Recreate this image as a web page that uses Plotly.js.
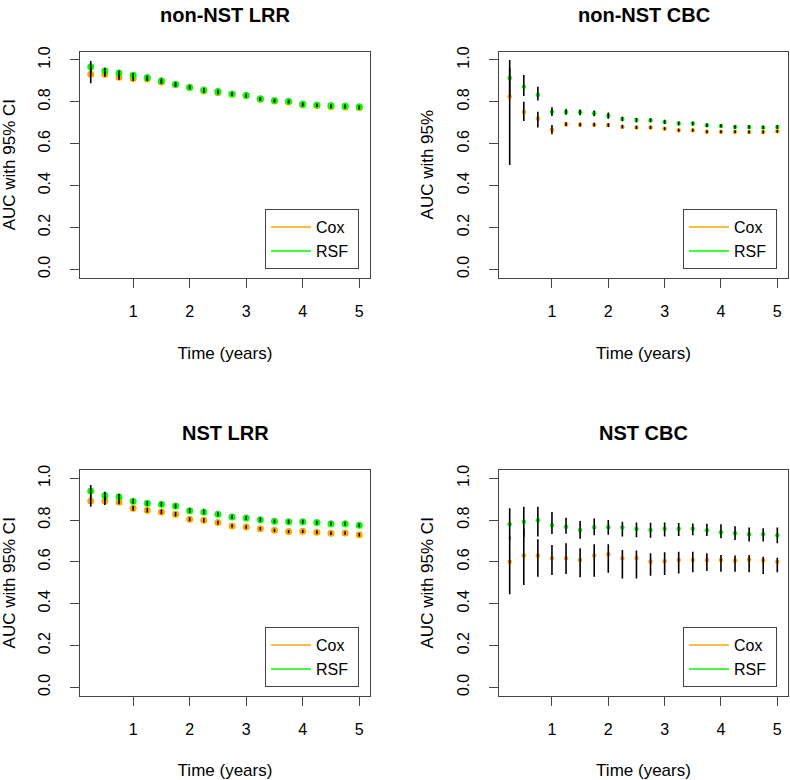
<!DOCTYPE html>
<html>
<head>
<meta charset="utf-8">
<script src="https://cdn.plot.ly/plotly-3.0.1.min.js"></script>
<style>html,body{margin:0;padding:0;background:#fff;}#chart{width:790px;height:780px;}</style>
</head>
<body>
<div id="chart"></div>
<script>
// ---- data ----
const times = [0.25,0.5,0.75,1,1.25,1.5,1.75,2,2.25,2.5,2.75,3,3.25,3.5,3.75,4,4.25,4.5,4.75,5];
const titles = ["non-NST LRR","non-NST CBC","NST LRR","NST CBC"];
const yTitles = ["AUC with 95% CI","AUC with 95%","AUC with 95% CI","AUC with 95% CI"];
const seriesNames = ["Cox","RSF"];
const xTickVals = [1,2,3,4,5];
const yTickVals = [0,0.2,0.4,0.6,0.8,1.0];

// non-NST LRR
const cox1   = [0.932,0.932,0.917,0.911,0.909,0.895,0.882,0.869,0.852,0.844,0.836,0.829,0.812,0.804,0.799,0.785,0.782,0.777,0.775,0.772];
const cox1Lo = [0.889,0.920,0.906,0.900,0.899,0.885,0.873,0.860,0.843,0.836,0.828,0.821,0.804,0.797,0.792,0.778,0.775,0.770,0.768,0.765];
const cox1Hi = [0.965,0.945,0.928,0.922,0.919,0.905,0.891,0.878,0.861,0.852,0.844,0.837,0.820,0.811,0.806,0.792,0.789,0.784,0.782,0.779];
const rsf1   = [0.968,0.949,0.938,0.927,0.916,0.901,0.884,0.870,0.857,0.849,0.838,0.831,0.815,0.807,0.803,0.790,0.785,0.782,0.780,0.777];
const rsf1Lo = [0.935,0.935,0.927,0.916,0.906,0.892,0.875,0.861,0.848,0.841,0.830,0.823,0.807,0.800,0.796,0.783,0.778,0.775,0.773,0.770];
const rsf1Hi = [0.995,0.962,0.950,0.938,0.926,0.911,0.893,0.879,0.866,0.858,0.846,0.839,0.823,0.815,0.810,0.797,0.792,0.789,0.787,0.784];

// non-NST CBC
const cox2   = [0.825,0.752,0.720,0.667,0.693,0.691,0.691,0.689,0.681,0.678,0.678,0.672,0.664,0.664,0.657,0.657,0.657,0.656,0.656,0.659];
const cox2Lo = [0.498,0.709,0.678,0.645,0.684,0.682,0.682,0.680,0.673,0.670,0.670,0.665,0.657,0.657,0.650,0.650,0.650,0.649,0.649,0.652];
const cox2Hi = [0.960,0.801,0.753,0.689,0.702,0.700,0.700,0.698,0.689,0.686,0.686,0.679,0.671,0.671,0.664,0.664,0.664,0.663,0.663,0.666];
const rsf2   = [0.914,0.872,0.834,0.753,0.752,0.750,0.745,0.734,0.718,0.713,0.712,0.704,0.697,0.696,0.688,0.685,0.680,0.680,0.678,0.680];
const rsf2Lo = [0.830,0.828,0.806,0.732,0.738,0.736,0.731,0.719,0.707,0.703,0.702,0.694,0.688,0.687,0.680,0.677,0.672,0.672,0.670,0.672];
const rsf2Hi = [1.000,0.928,0.872,0.774,0.766,0.764,0.759,0.749,0.729,0.723,0.722,0.714,0.706,0.705,0.696,0.693,0.688,0.688,0.686,0.688];

// NST LRR
const cox3   = [0.891,0.893,0.887,0.856,0.847,0.839,0.828,0.804,0.799,0.788,0.772,0.767,0.759,0.751,0.745,0.746,0.742,0.737,0.738,0.730];
const cox3Lo = [0.864,0.872,0.876,0.845,0.836,0.828,0.817,0.794,0.789,0.779,0.764,0.759,0.751,0.743,0.737,0.738,0.734,0.729,0.730,0.722];
const cox3Hi = [0.920,0.915,0.898,0.867,0.858,0.850,0.839,0.814,0.809,0.797,0.780,0.775,0.767,0.759,0.753,0.754,0.750,0.745,0.746,0.738];
const rsf3   = [0.939,0.917,0.912,0.890,0.880,0.876,0.867,0.845,0.839,0.828,0.815,0.810,0.802,0.794,0.792,0.792,0.788,0.783,0.783,0.775];
const rsf3Lo = [0.905,0.895,0.900,0.878,0.869,0.865,0.856,0.834,0.828,0.818,0.805,0.800,0.792,0.785,0.783,0.783,0.779,0.774,0.774,0.766];
const rsf3Hi = [0.968,0.935,0.925,0.902,0.891,0.887,0.878,0.856,0.850,0.838,0.825,0.820,0.812,0.803,0.801,0.801,0.797,0.792,0.792,0.784];

// NST CBC
const cox4   = [0.601,0.631,0.630,0.617,0.617,0.609,0.630,0.636,0.617,0.619,0.601,0.603,0.609,0.609,0.609,0.609,0.607,0.611,0.607,0.601];
const cox4Lo = [0.445,0.489,0.529,0.537,0.542,0.526,0.529,0.548,0.521,0.521,0.534,0.537,0.545,0.551,0.556,0.553,0.553,0.550,0.542,0.550];
const cox4Hi = [0.720,0.760,0.708,0.681,0.689,0.665,0.684,0.684,0.657,0.654,0.641,0.646,0.649,0.649,0.641,0.633,0.630,0.633,0.625,0.620];
const rsf4   = [0.780,0.792,0.799,0.775,0.768,0.753,0.766,0.766,0.764,0.757,0.753,0.759,0.759,0.759,0.751,0.742,0.737,0.732,0.732,0.727];
const rsf4Lo = [0.705,0.718,0.721,0.733,0.735,0.711,0.727,0.730,0.721,0.718,0.716,0.721,0.724,0.727,0.724,0.713,0.705,0.697,0.697,0.689];
const rsf4Hi = [0.856,0.864,0.864,0.839,0.811,0.796,0.807,0.800,0.792,0.789,0.787,0.789,0.786,0.784,0.782,0.780,0.770,0.765,0.761,0.764];

// ---- styling ----
const COX_COLOR = "#FFA500";
const RSF_COLOR = "#00FF00";
const AXIS_COLOR = "#444444";
const FONT = "Liberation Sans, Arial, sans-serif";
const W = 790, H = 780;

const panels = [
  {cox:[cox1,cox1Lo,cox1Hi], rsf:[rsf1,rsf1Lo,rsf1Hi], msize:7,   xd:[80,370],  yd:[51.6,277.7]},
  {cox:[cox2,cox2Lo,cox2Hi], rsf:[rsf2,rsf2Lo,rsf2Hi], msize:4.5, xd:[499,788], yd:[51.6,277.7]},
  {cox:[cox3,cox3Lo,cox3Hi], rsf:[rsf3,rsf3Lo,rsf3Hi], msize:7,   xd:[80,370],  yd:[469.9,695.7]},
  {cox:[cox4,cox4Lo,cox4Hi], rsf:[rsf4,rsf4Lo,rsf4Hi], msize:4.5, xd:[499,788], yd:[469.9,695.7]}
];

const traces = [];
const layout = {
  width: W, height: H,
  margin: {l:0, r:0, t:0, b:0},
  paper_bgcolor: "#fff", plot_bgcolor: "#fff",
  font: {family: FONT, color: "#000", size: 15},
  showlegend: true,
  annotations: []
};

panels.forEach((p, i) => {
  const n = i + 1;
  const xa = n === 1 ? "x" : "x" + n;
  const ya = n === 1 ? "y" : "y" + n;
  const lg = n === 1 ? "legend" : "legend" + n;
  const groups = [[seriesNames[0], p.cox, COX_COLOR], [seriesNames[1], p.rsf, RSF_COLOR]];
  // points
  groups.forEach(([name, s, col]) => {
    traces.push({x: times, y: s[0], xaxis: xa, yaxis: ya, type: "scatter", mode: "markers",
      marker: {color: col, size: p.msize, line: {width: 0}}, showlegend: false, name: name, hoverinfo: "skip"});
  });
  // CI bars on top
  groups.forEach(([name, s, col]) => {
    traces.push({x: times, y: s[0], xaxis: xa, yaxis: ya, type: "scatter", mode: "markers",
      marker: {color: col, size: p.msize, opacity: 0},
      error_y: {type: "data", symmetric: false,
        array: s[0].map((v, k) => s[2][k] - v),
        arrayminus: s[0].map((v, k) => v - s[1][k]),
        color: "#000", thickness: 1.6, width: 0},
      showlegend: false, name: name, hoverinfo: "skip"});
  });
  // legend entries
  groups.forEach(([name, s, col]) => {
    traces.push({x: [null], y: [null], xaxis: xa, yaxis: ya, type: "scatter", mode: "lines",
      line: {color: col, width: 1.5}, name: name + "\u00a0", legend: lg, showlegend: true});
  });

  const axKey = n === 1 ? "xaxis" : "xaxis" + n;
  const ayKey = n === 1 ? "yaxis" : "yaxis" + n;
  layout[axKey] = {
    domain: [p.xd[0] / W, p.xd[1] / W], anchor: ya,
    range: [0.06, 5.19], tickvals: xTickVals, ticks: "outside", ticklen: 9, tickwidth: 1,
    tickcolor: AXIS_COLOR, showline: true, mirror: true, linecolor: AXIS_COLOR, linewidth: 1,
    showgrid: false, zeroline: false, ticklabelstandoff: 10,
    tickfont: {size: 16, family: FONT},
    title: {text: "Time (years)", font: {size: 17, family: FONT}, standoff: 28}
  };
  layout[ayKey] = {
    domain: [1 - p.yd[1] / H, 1 - p.yd[0] / H], anchor: xa,
    range: [-0.04, 1.04], tickvals: yTickVals, tickformat: ".1f", tickangle: -90,
    ticks: "outside", ticklen: 9, tickwidth: 1, tickcolor: AXIS_COLOR,
    showline: true, mirror: true, linecolor: AXIS_COLOR, linewidth: 1,
    showgrid: false, zeroline: false, ticklabelstandoff: 14,
    tickfont: {size: 16, family: FONT},
    title: {text: yTitles[i], font: {size: 17, family: FONT}, standoff: 16}
  };
  layout[lg] = {
    xref: "paper", yref: "paper",
    x: (p.xd[1] - 11) / W, xanchor: "right",
    y: 1 - (p.yd[1] - 8.5) / H, yanchor: "bottom",
    bgcolor: "#fff", bordercolor: AXIS_COLOR, borderwidth: 1,
    font: {size: 16, family: FONT}, itemwidth: 40, tracegroupgap: 0
  };
  layout.annotations.push({
    text: "<b>" + titles[i] + "</b>", showarrow: false,
    xref: xa + " domain", x: 0.5, xanchor: "center",
    yref: ya + " domain", y: 1, yanchor: "middle", yshift: 37,
    font: {size: 20, family: FONT}
  });
});

Plotly.newPlot("chart", traces, layout, {staticPlot: true, displayModeBar: false});
</script>
</body>
</html>
